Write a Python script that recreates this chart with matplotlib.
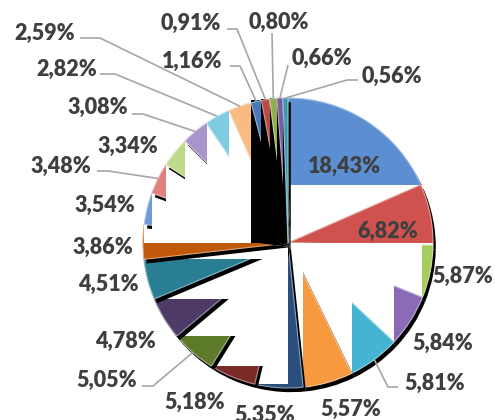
import matplotlib
matplotlib.use("Agg")
import matplotlib.pyplot as plt
import matplotlib.patheffects as pe
from matplotlib.patches import Rectangle
from matplotlib.colors import to_rgb
import numpy as np

# slice shares in percent, clockwise from 12 o'clock
shares = [18.43, 6.82, 5.87, 5.84, 5.81, 5.57, 5.35, 5.18, 5.05, 4.78, 4.51, 3.86,
          3.54, 3.48, 3.34, 3.08, 2.82, 2.59, 1.16, 0.91, 0.80, 0.66, 0.56]
labels = [f"{v:.2f}%".replace(".", ",") for v in shares]

colors = ["#5B8FD2", "#D0524E", "#A6CB5E", "#8B6BB6", "#44B4D2", "#F7993F",
          "#2A4E7E", "#7A2B28", "#5E7A2B", "#4E3A67", "#2A7E93", "#C0580A",
          "#6F9BD8", "#E07F7C", "#BEDB8C", "#A895CC", "#7FCCE2", "#F9BB84",
          "#4A78B8", "#B84A47", "#8FAF4F", "#7A5EA0", "#3F97AE"]

# label centres, pixels from the top-left corner
label_xy = [(344, 166), (388, 231), (463, 276), (443, 343), (435, 383), (351, 409),
            (265, 415), (195, 402), (107, 380), (125, 341), (108, 284), (103, 247),
            (105, 205), (61, 166), (128, 146), (98, 107), (67, 69), (45, 33),
            (192, 61), (191, 23), (279, 22), (322, 58), (392, 76)]

# leader lines: label-side start and elbow (pixels), pie end comes from the slice
leaders = {4: [(398, 387), (388, 387)], 8: [(142, 386), (153, 386)],
           13: [(97, 171), (108, 171)], 15: [(132, 114), (143, 114)],
           16: [(100, 74), (115, 74)], 17: [(80, 38), (100, 38)],
           18: [(230, 66), (240, 66)], 19: [(227, 29), (237, 29)],
           20: [(272, 33)], 21: [(288, 65)], 22: [(358, 80), (347, 80)]}

W, H = 495, 420
cx, cy, R = 288, H - 243, 145

fig = plt.figure(figsize=(W / 100, H / 100), dpi=100)
ax = fig.add_axes([0, 0, 1, 1])

wedges, _ = ax.pie(shares, startangle=90, counterclock=False, radius=R,
                   center=(cx, cy), colors=colors,
                   wedgeprops=dict(linewidth=0))
ax.set_xlim(0, W)
ax.set_ylim(0, H)
ax.set_aspect("equal")
ax.axis("off")

n_small = 5
for i, w in enumerate(wedges):
    # each slice paints its bounding box first (white, black for the last tiny ones)
    bb = w.get_path().get_extents()
    fill = "black" if i >= len(wedges) - n_small else "white"
    ax.add_patch(Rectangle((bb.x0, bb.y0), bb.width, bb.height,
                           facecolor=fill, linewidth=0, zorder=2 * i + 1))
    light = tuple(0.55 * np.array(to_rgb(colors[i])) + 0.45)
    w.set_edgecolor(light)
    w.set_linewidth(0.8)
    w.set_zorder(2 * i + 2)
    w.set_path_effects([pe.SimplePatchShadow(offset=(2, -3), shadow_rgbFace="black",
                                             alpha=1.0), pe.Normal()])

for i, pts in leaders.items():
    w = wedges[i]
    mid = np.deg2rad((w.theta1 + w.theta2) / 2)
    end = (cx + R * np.cos(mid), cy + R * np.sin(mid))
    xs = [p[0] for p in pts] + [end[0]]
    ys = [H - p[1] for p in pts] + [end[1]]
    ax.plot(xs, ys, color="#A6A6A6", lw=1.2, zorder=100, solid_capstyle="butt")

for lab, (px, py) in zip(labels, label_xy):
    ax.text(px, H - py, lab, ha="center", va="center", fontsize=15.5,
            fontweight="heavy", family="Lato", color="#3F3F3F", zorder=101)

fig.savefig("out.png", dpi=100, facecolor="white")
